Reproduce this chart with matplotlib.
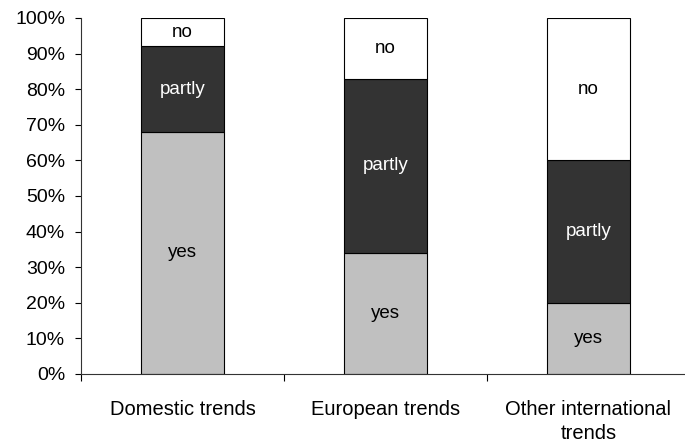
import numpy as np
import matplotlib
matplotlib.use("Agg")
import matplotlib.pyplot as plt
from matplotlib.ticker import FuncFormatter, FixedLocator

plt.rcParams["font.family"] = ["Liberation Sans", "DejaVu Sans"]

categories = ["Domestic trends", "European trends", "Other international\ntrends"]
yes = [68, 34, 20]
partly = [24, 49, 40]
no = [8, 17, 40]

series = [("yes", yes, "#c0c0c0", "black"),
          ("partly", partly, "#333333", "white"),
          ("no", no, "white", "black")]

fig = plt.figure(figsize=(6.85, 4.43), dpi=100)
ax = fig.add_axes([81 / 685, 1 - 374 / 443, 609 / 685, 356 / 443])

x = np.arange(len(categories))
bottom = np.zeros(len(categories))
for name, vals, fc, tc in series:
    vals = np.array(vals, dtype=float)
    ax.bar(x, vals, width=0.41, bottom=bottom, color=fc,
           edgecolor="black", linewidth=0.8, zorder=2)
    for xi, b, v in zip(x, bottom, vals):
        ax.text(xi, b + v / 2, name, ha="center", va="center",
                color=tc, fontsize=13.5, zorder=3)
    bottom += vals

ax.set_xlim(-0.5, 2.5)
ax.set_ylim(0, 100)
ax.yaxis.set_major_locator(FixedLocator(np.arange(0, 101, 10)))
ax.yaxis.set_major_formatter(FuncFormatter(lambda v, _: f"{v:.0f}%"))

# category labels in the middle, tick marks on the boundaries
ax.set_xticks(x)
ax.set_xticklabels(categories, fontsize=14.5, linespacing=1.3)
ax.set_xticks([-0.5, 0.5, 1.5], minor=True)
ax.tick_params(axis="x", which="major", length=0, pad=19)
ax.tick_params(axis="x", which="minor", length=5, width=0.8, direction="out")
ax.tick_params(axis="y", length=4.5, width=0.8, direction="out", labelsize=14, pad=7)

for side in ["top", "right"]:
    ax.spines[side].set_visible(False)
for side in ["left", "bottom"]:
    ax.spines[side].set_linewidth(0.8)
    ax.spines[side].set_color("#333333")

fig.savefig("out.png", dpi=100)
